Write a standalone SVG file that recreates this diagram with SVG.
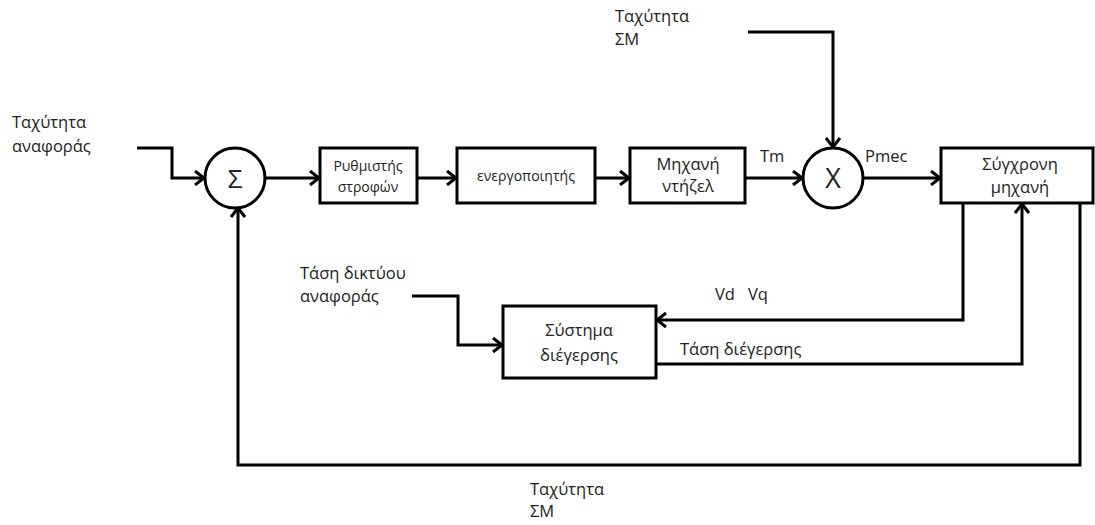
<svg xmlns="http://www.w3.org/2000/svg" width="1095" height="525" viewBox="0 0 1095 525">
<style>
.box{fill:#fff;stroke:#000;stroke-width:3}
.ln{fill:none;stroke:#000;stroke-width:3;stroke-linejoin:miter}
.arr{marker-end:url(#ah)}
text{font-family:"Open Sans","Liberation Sans",sans-serif;fill:#222}
.t{font-size:16.5px}
.s{font-size:14px}
.c{text-anchor:middle}
</style>
<defs>
<marker id="ah" markerWidth="14" markerHeight="16" refX="11" refY="8" orient="auto" markerUnits="userSpaceOnUse">
<path d="M2,1 L11,8 L2,15" fill="none" stroke="#000" stroke-width="3"/>
</marker>
</defs>
<rect width="1095" height="525" fill="#fff"/>
<g id="connectors">
<path class="ln arr" d="M137,148 H172 V178 H204"/>
<path class="ln arr" d="M265,178 H319"/>
<path class="ln arr" d="M417,178 H456"/>
<path class="ln arr" d="M595,178 H629"/>
<path class="ln arr" d="M745,178 H802"/>
<path class="ln arr" d="M748,32 H833 V147"/>
<path class="ln arr" d="M863,178 H940"/>
<path class="ln arr" d="M963,204 V320 H657"/>
<path class="ln arr" d="M657,364 H1022 V204"/>
<path class="ln arr" d="M412,296 H458 V345 H502"/>
<path class="ln arr" d="M1080,204 V465 H238 V208"/>
</g>
<g id="sum">
<circle class="box" cx="235" cy="178" r="30"/>
<text x="235" y="188" class="c" style="font-size:26px">Σ</text>
</g>
<g id="speed-controller">
<rect class="box" x="320" y="148" width="97" height="55"/>
<text x="368" y="171" class="c s">Ρυθμιστής</text>
<text x="368" y="192" class="c s">στροφών</text>
</g>
<g id="actuator">
<rect class="box" x="457" y="148" width="138" height="55"/>
<text x="526" y="181" class="c s">ενεργοποιητής</text>
</g>
<g id="diesel">
<rect class="box" x="630" y="148" width="115" height="55"/>
<text x="688" y="170" class="c t">Μηχανή</text>
<text x="688" y="192" class="c t">ντήζελ</text>
</g>
<g id="multiplier">
<circle class="box" cx="833" cy="178" r="30"/>
<text x="833" y="188" class="c" style="font-size:27px">X</text>
</g>
<g id="sync-machine">
<rect class="box" x="941" y="148" width="152" height="55"/>
<text x="1020" y="170" class="c t">Σύγχρονη</text>
<text x="1020" y="193" class="c t">μηχανή</text>
</g>
<g id="excitation">
<rect class="box" x="503" y="306" width="153" height="72"/>
<text x="579" y="336" class="c t">Σύστημα</text>
<text x="579" y="361" class="c t">διέγερσης</text>
</g>
<g id="labels">
<text x="12" y="128" class="t">Ταχύτητα</text>
<text x="12" y="152" class="t">αναφοράς</text>
<text x="615" y="22" class="t">Ταχύτητα</text>
<text x="615" y="45" class="t">ΣΜ</text>
<text x="760" y="162" class="t">Tm</text>
<text x="865" y="162" class="t">Pmec</text>
<text x="300" y="279" class="t">Τάση δικτύου</text>
<text x="300" y="302" class="t">αναφοράς</text>
<text x="715" y="300" class="t">Vd</text>
<text x="748" y="300" class="t">Vq</text>
<text x="680" y="355" class="t">Τάση διέγερσης</text>
<text x="530" y="495" class="t">Ταχύτητα</text>
<text x="530" y="517" class="t">ΣΜ</text>
</g>
</svg>
